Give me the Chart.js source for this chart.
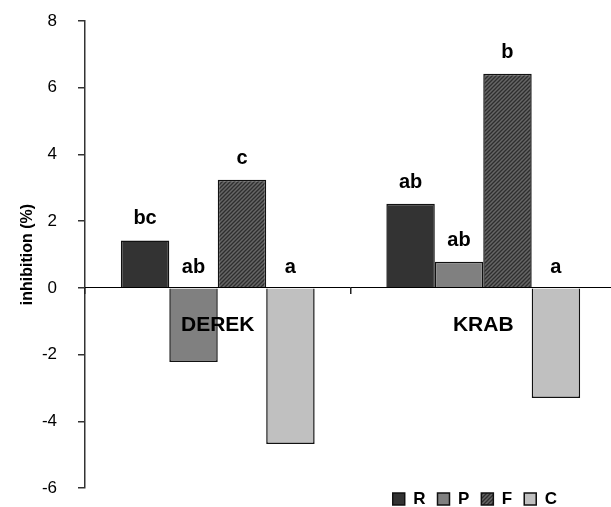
<!DOCTYPE html>
<html><head><meta charset="utf-8">
<script src="https://cdn.jsdelivr.net/npm/chart.js@4"></script>
<style>html,body{margin:0;padding:0;overflow:hidden;background:#fff}#wrap{width:616px;height:507px}</style>
</head><body><div id="wrap"><canvas id="c" width="616" height="507"></canvas></div>
<script>
const categories = ['DEREK', 'KRAB'];
const seriesNames = ['R', 'P', 'F', 'C'];
const valuesR = [1.42, 2.52];
const valuesP = [-2.22, 0.78];
const valuesF = [3.24, 6.42];
const valuesC = [-4.68, -3.30];
const lettersR = ['bc', 'ab'];
const lettersP = ['ab', 'ab'];
const lettersF = ['c', 'b'];
const lettersC = ['a', 'a'];
const yMin = -6, yMax = 8, yStep = 2;

const FONT = '"Liberation Sans", Arial, Helvetica, sans-serif';
const canvas = document.getElementById('c');
const ctx = canvas.getContext('2d');

function hatch() {
  const p = document.createElement('canvas');
  p.width = 4; p.height = 4;
  const g = p.getContext('2d');
  g.fillStyle = '#666666'; g.fillRect(0, 0, 4, 4);
  g.strokeStyle = '#2e2e2e'; g.lineWidth = 1.3;
  g.beginPath();
  g.moveTo(0, 4); g.lineTo(4, 0);
  g.moveTo(-1, 1); g.lineTo(1, -1);
  g.moveTo(3, 5); g.lineTo(5, 3);
  g.stroke();
  return ctx.createPattern(p, 'repeat');
}

const fills = ['#333333', '#808080', hatch(), '#c0c0c0'];
const seriesValues = [valuesR, valuesP, valuesF, valuesC];
const seriesLetters = [lettersR, lettersP, lettersF, lettersC];

const datasets = seriesNames.map((n, i) => ({
  label: n,
  data: seriesValues[i],
  letters: seriesLetters[i],
  backgroundColor: fills[i],
  borderColor: '#111',
  borderWidth: 1.5,
  borderSkipped: 'start',
  categoryPercentage: 0.73,
  barPercentage: 1.0
}));

const letterPlugin = {
  id: 'letters',
  afterDatasetsDraw(chart) {
    const c = chart.ctx;
    c.save();
    c.font = 'bold 20px ' + FONT;
    c.fillStyle = '#000';
    c.textAlign = 'center';
    c.textBaseline = 'alphabetic';
    chart.data.datasets.forEach((ds, di) => {
      chart.getDatasetMeta(di).data.forEach((bar, i) => {
        const top = Math.min(bar.y, bar.base);
        c.fillText(ds.letters[i], bar.x, top - 16);
      });
    });
    c.restore();
  }
};

const legendPlace = {
  id: 'legendPlace',
  afterLayout(chart) {
    const lg = chart.legend;
    lg.left -= 47; lg.right -= 47;
    lg.top -= 9.5;
  }
};

new Chart(ctx, {
  type: 'bar',
  data: { labels: categories, datasets },
  plugins: [letterPlugin, legendPlace],
  options: {
    responsive: false,
    animation: false,
    layout: { padding: { top: 21, left: 0, right: 0, bottom: 0 } },
    plugins: {
      tooltip: { enabled: false },
      legend: {
        position: 'bottom',
        align: 'end',
        maxHeight: 19,
        labels: {
          color: '#000',
          font: { family: FONT, size: 17, weight: 'bold' },
          boxWidth: 12,
          boxHeight: 12,
          padding: 12
        }
      }
    },
    scales: {
      x: {
        position: { y: 0 },
        offset: true,
        grid: { display: true, drawOnChartArea: false, offset: true, tickLength: 6, color: '#222', lineWidth: 1.5, z: 1 },
        border: { display: true, color: '#000', width: 1, z: 1 },
        ticks: { color: '#000', font: { family: FONT, size: 21, weight: 'bold' }, padding: 19, z: 1 }
      },
      y: {
        min: yMin, max: yMax,
        afterFit(s) { s.width = 85; s.paddingTop = 0; s.paddingBottom = 0; },
        ticks: { stepSize: yStep, color: '#000', font: { family: FONT, size: 17 }, padding: 21 },
        grid: { drawOnChartArea: false, drawTicks: true, tickLength: 7, color: '#333', lineWidth: 1.5 },
        border: { display: true, color: '#333', width: 1.5 },
        title: { display: true, text: 'inhibition (%)', color: '#000', font: { family: FONT, size: 16, weight: 'bold' }, padding: { top: 18, bottom: 0 } }
      }
    }
  }
});
</script>
</body></html>
